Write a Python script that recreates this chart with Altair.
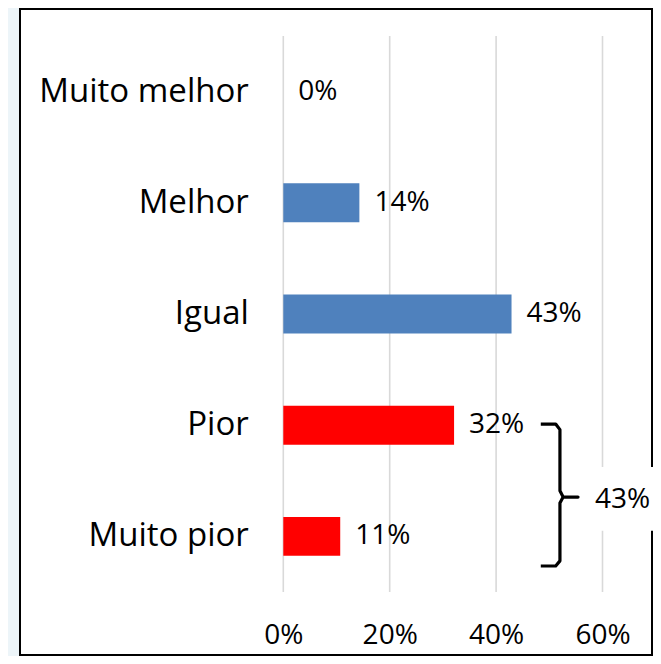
import altair as alt
import pandas as pd

# ---- data ----
categories = ["Muito melhor", "Melhor", "Igual", "Pior", "Muito pior"]
values = [0.0, 0.143, 0.429, 0.321, 0.107]
bar_colors = ["#4f81bd", "#4f81bd", "#4f81bd", "#ff0000", "#ff0000"]
grid_ticks = [0.0, 0.2, 0.4, 0.6]

# bracket annotation (x in share units, y in category-slot units: 0 = top)
bracket_x = [0.484, 0.512, 0.520, 0.520, 0.526, 0.554, 0.526, 0.520, 0.520, 0.512, 0.484]
bracket_y = [3.49, 3.49, 3.54, 4.09, 4.146, 4.146, 4.146, 4.20, 4.72, 4.766, 4.766]
bracket_label = ["43%"]
bracket_label_x = [0.586]
bracket_label_y = [4.17]

FONT = "Open Sans"

bars_df = pd.DataFrame({"cat": categories, "val": values, "color": bar_colors})
grid_df = pd.DataFrame({"g": grid_ticks})
br_df = pd.DataFrame({"bx": bracket_x, "by": bracket_y, "o": list(range(len(bracket_x)))})
lab_df = pd.DataFrame({"t": bracket_label, "lx": bracket_label_x, "ly": bracket_label_y,
                       "cx1": [0.5765], "cx2": [0.70], "cy1": [3.876], "cy2": [4.45]})
box_df = pd.DataFrame({"k": [0]})

xscale = alt.Scale(domain=[0, 0.6], nice=False, zero=False)
yq = alt.Scale(domain=[0, 5], reverse=True, nice=False, zero=False)

xaxis = alt.Axis(values=grid_ticks, format=".0%", grid=False, domain=False, ticks=False,
                 labelFontSize=28, labelFont=FONT, labelColor="black", labelPadding=29,
                 labelFlush=False, labelOverlap=False, labelBound=False,
                 title=None, zindex=1)
yaxis = alt.Axis(grid=False, domain=False, ticks=False, labelFontSize=33, labelFont=FONT,
                 labelColor="black", labelPadding=35, labelLimit=500, title=None, zindex=1)

box = alt.Chart(box_df).mark_rect(fill="white", stroke="black", strokeWidth=2).encode(
    x=alt.value(-263.3), x2=alt.value(368.7), y=alt.value(-27), y2=alt.value(619)
)

grid = alt.Chart(grid_df).mark_rule(color="#d9d9d9", strokeWidth=1.6).encode(
    x=alt.X("g:Q", scale=xscale, axis=xaxis)
)

yenc = alt.Y("cat:N", sort=categories,
             scale=alt.Scale(paddingInner=0.65, paddingOuter=0.325), axis=yaxis)

bars = alt.Chart(bars_df).mark_bar().encode(
    x=alt.X("val:Q", scale=xscale, axis=xaxis),
    y=yenc,
    color=alt.Color("color:N", scale=None),
)

vals = alt.Chart(bars_df).mark_text(align="left", baseline="middle", dx=15, fontSize=28,
                                    font=FONT, color="black").encode(
    x=alt.X("val:Q", scale=xscale),
    y=alt.Y("cat:N", sort=categories),
    text=alt.Text("val:Q", format=".0%"),
)

cover = alt.Chart(lab_df).mark_rect(fill="white").encode(
    x=alt.X("cx1:Q", scale=xscale), x2="cx2:Q",
    y=alt.Y("cy1:Q", scale=yq, axis=None), y2="cy2:Q",
)

bracket = alt.Chart(br_df).mark_line(color="black", strokeWidth=3.2, strokeJoin="round",
                                     strokeCap="butt").encode(
    x=alt.X("bx:Q", scale=xscale),
    y=alt.Y("by:Q", scale=yq, axis=None),
    order="o:Q",
)

label = alt.Chart(lab_df).mark_text(align="left", baseline="middle", fontSize=28,
                                    font=FONT, color="black").encode(
    x=alt.X("lx:Q", scale=xscale),
    y=alt.Y("ly:Q", scale=yq, axis=None),
    text="t:N",
)

chart = alt.layer(box, grid, bars, vals, cover, bracket, label).resolve_scale(
    y="independent"
).properties(
    width=319.2, height=556,
    autosize=alt.AutoSizeParams(type="none"),
    padding={"left": 275.3, "top": 28, "right": 50.5, "bottom": 64},
    background="#edf5f9",
).configure_view(stroke=None)

chart.save("out.html", embed_options={"renderer": "svg", "actions": False})
